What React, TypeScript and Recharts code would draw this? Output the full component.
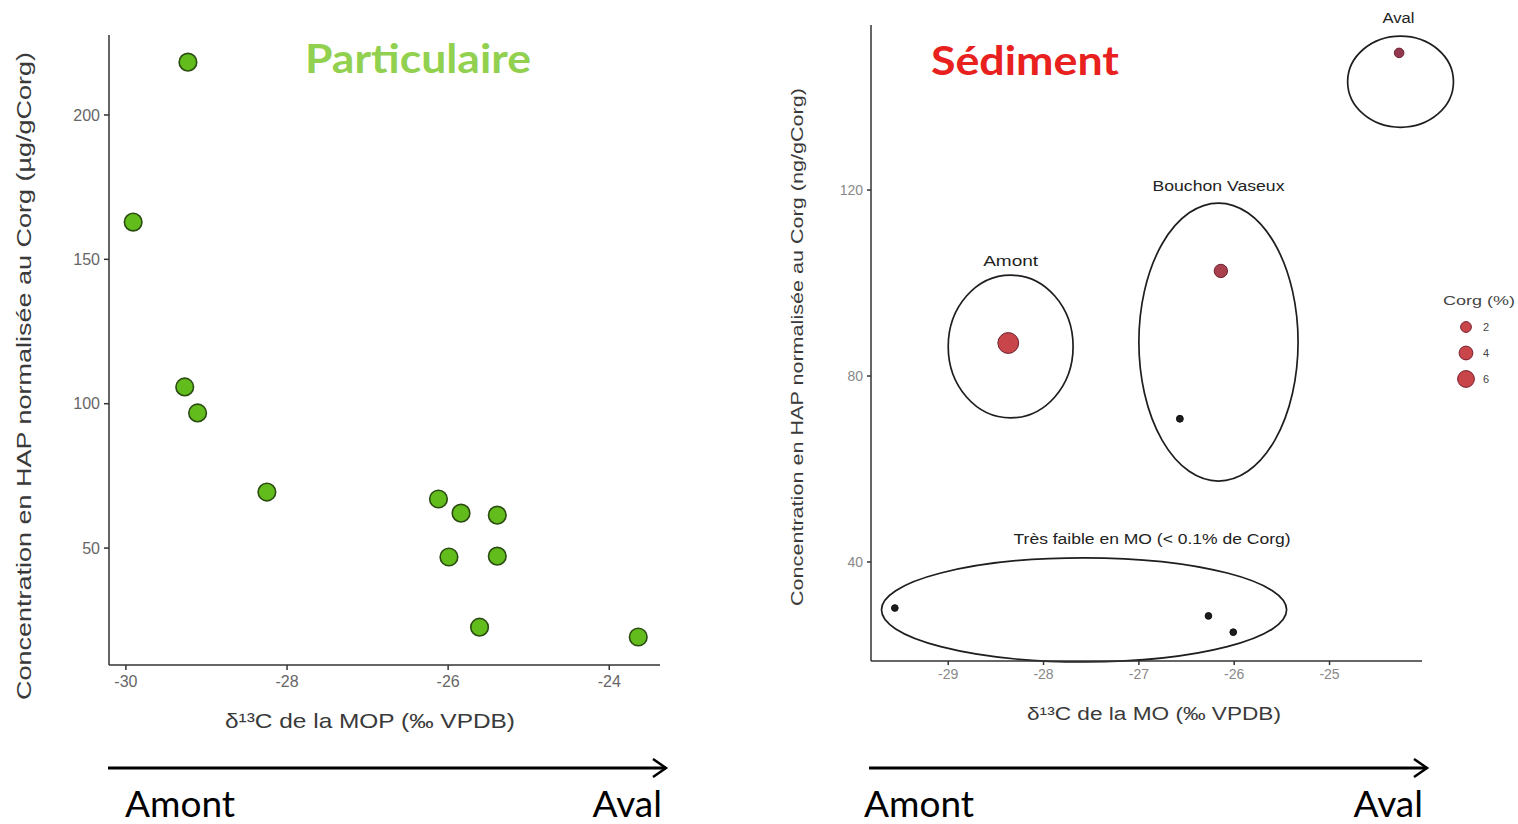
import React from 'react';
import { ScatterChart, Scatter, XAxis, YAxis, ReferenceArea } from 'recharts';

// Particulaire : delta13C de la MOP vs HAP normalisé (µg/gCorg)
const mopD13C = [-29.23, -29.91, -29.27, -29.11, -28.25, -26.12, -25.84, -25.39, -25.99, -25.39, -25.61, -23.64];
const mopHap = [218.3, 162.9, 105.8, 96.8, 69.4, 67.0, 62.1, 61.4, 46.9, 47.2, 22.6, 19.2];
const mopXTicks = [-30, -28, -26, -24];
const mopYTicks = [50, 100, 150, 200];

// Sédiment : delta13C de la MO vs HAP normalisé (ng/gCorg), taille = Corg (%)
const sedD13C = [-28.37, -26.14, -26.57, -24.27, -29.56, -26.27, -26.01];
const sedHap = [87.1, 102.6, 70.8, 149.5, 30.1, 28.4, 24.9];
const sedCorg = [9.5, 4.5, 0.2, 2.0, 0.05, 0.05, 0.05];
const sedXTicks = [-29, -28, -27, -26, -25];
const sedYTicks = [40, 80, 120];
const corgBreaks = [2, 4, 6];

// groupes entourés (bornes en unités des axes)
const groupLabels = ['Amont', 'Bouchon Vaseux', 'Aval', 'Très faible en MO (< 0.1% de Corg)'];
const groupX1 = [-29.0, -27.0, -24.81, -29.7];
const groupX2 = [-27.69, -25.33, -23.7, -25.45];
const groupY1 = [71.0, 57.4, 133.5, 18.5];
const groupY2 = [101.7, 117.2, 153.1, 40.9];

const particulaire = mopD13C.map((x, i) => ({ x, y: mopHap[i] }));
const sediment = sedD13C.map((x, i) => ({ x, y: sedHap[i], corg: sedCorg[i] }));

const AXIS_FONT = '"Liberation Sans", Arial, sans-serif';
const TITLE_FONT = 'Lato, "Noto Sans", sans-serif';

const corgRadius = (c: number) => 3.3 + 0.75 * c;
const corgColor = (c: number) => (c < 0.5 ? '#1c1c1c' : c < 3 ? '#93394f' : c < 6 ? '#a9404d' : '#c8464a');

const GreenDot = (props: any) => (
  <circle cx={props.cx} cy={props.cy} r={8.8} fill="#62bd1c" stroke="#2b4c12" strokeWidth={1.6} />
);

const CorgDot = (props: any) => {
  const c = props.payload.corg;
  return (
    <circle
      cx={props.cx}
      cy={props.cy}
      r={corgRadius(c)}
      fill={corgColor(c)}
      stroke={c < 0.5 ? '#111' : '#6b2030'}
      strokeWidth={1}
    />
  );
};

const EllipseShape = (props: any) => {
  const { x, y, width, height } = props;
  return (
    <ellipse
      cx={x + width / 2}
      cy={y + height / 2}
      rx={Math.abs(width) / 2}
      ry={Math.abs(height) / 2}
      fill="none"
      stroke="#1e1e1e"
      strokeWidth={1.7}
    />
  );
};

const groupLabelDx = [0, 0, -2, 68];
const groupLabelGap = [9, 12, 13, 14];
const groupLabelLen = [55, 132, 32, 277];

const groupLabel = (i: number) => (props: any) => {
  const vb = props.viewBox;
  return (
    <text
      x={vb.x + vb.width / 2 + groupLabelDx[i]}
      y={vb.y - groupLabelGap[i]}
      textAnchor="middle"
      fontFamily={AXIS_FONT}
      fontSize={14}
      fill="#222"
      textLength={groupLabelLen[i]}
      lengthAdjust="spacingAndGlyphs"
    >
      {groupLabels[i]}
    </text>
  );
};

const yTitle = (text: string, x: number, dy: number, len: number, fs: number) => (props: any) => {
  const vb = props.viewBox;
  const cy = vb.y + vb.height / 2 + dy;
  return (
    <text
      x={x}
      y={cy}
      transform={`rotate(-90, ${x}, ${cy})`}
      textAnchor="middle"
      dominantBaseline="central"
      fontFamily={AXIS_FONT}
      fontSize={fs}
      fill="#3a3a3a"
      textLength={len}
      lengthAdjust="spacingAndGlyphs"
    >
      {text}
    </text>
  );
};

const xTitle = (text: string, cx: number, y: number, len: number, fs: number) => () => (
  <text
    x={cx}
    y={y}
    textAnchor="middle"
    fontFamily={AXIS_FONT}
    fontSize={fs}
    fill="#3a3a3a"
    textLength={len}
    lengthAdjust="spacingAndGlyphs"
  >
    {text}
  </text>
);

const Arrow = ({ x1, x2, y }: { x1: number; x2: number; y: number }) => (
  <g stroke="#000" strokeWidth={3} fill="none">
    <line x1={x1} y1={y} x2={x2} y2={y} />
    <polyline points={`${x2 - 13},${y - 9} ${x2},${y} ${x2 - 13},${y + 9}`} strokeWidth={2.5} />
  </g>
);

export default function App() {
  return (
    <div style={{ position: 'absolute', left: 0, top: 0, width: 1518, height: 824, background: '#fff' }}>
      {/* Particulaire */}
      <div style={{ position: 'absolute', left: 0, top: 0 }}>
        <ScatterChart width={700} height={760} margin={{ top: 35, right: 40, bottom: 55, left: 0 }}>
          <XAxis
            type="number"
            dataKey="x"
            domain={[-30.21, -23.37]}
            ticks={mopXTicks}
            height={40}
            tickSize={5}
            tickMargin={6}
            stroke="#333"
            strokeWidth={1.5}
            tick={{ fill: '#666', fontSize: 16, fontFamily: AXIS_FONT }}
            label={{ content: xTitle('δ¹³C de la MOP (‰ VPDB)', 370, 728, 290, 21) }}
          />
          <YAxis
            type="number"
            dataKey="y"
            domain={[9.5, 227.7]}
            ticks={mopYTicks}
            width={109}
            tickSize={5}
            tickMargin={4}
            stroke="#333"
            strokeWidth={1.5}
            tick={{ fill: '#666', fontSize: 16, fontFamily: AXIS_FONT }}
            label={{ content: yTitle('Concentration en HAP normalisée au Corg (µg/gCorg)', 23, 26, 648, 21) }}
          />
          <Scatter data={particulaire} shape={GreenDot} isAnimationActive={false} />
        </ScatterChart>
      </div>

      {/* Sédiment */}
      <div style={{ position: 'absolute', left: 760, top: 0 }}>
        <ScatterChart width={758} height={760} margin={{ top: 25, right: 96, bottom: 64, left: 0 }}>
          <XAxis
            type="number"
            dataKey="x"
            domain={[-29.81, -24.03]}
            ticks={sedXTicks}
            height={35}
            tickSize={4}
            tickMargin={4}
            stroke="#333"
            strokeWidth={1.5}
            tick={{ fill: '#888', fontSize: 14, fontFamily: AXIS_FONT }}
            label={{ content: xTitle('δ¹³C de la MO (‰ VPDB)', 394, 720, 254, 18) }}
          />
          <YAxis
            type="number"
            dataKey="y"
            domain={[18.7, 155.5]}
            ticks={sedYTicks}
            width={111}
            tickSize={4}
            tickMargin={4}
            stroke="#333"
            strokeWidth={1.5}
            tick={{ fill: '#888', fontSize: 14, fontFamily: AXIS_FONT }}
            label={{ content: yTitle('Concentration en HAP normalisée au Corg (ng/gCorg)', 37, 4, 518, 17) }}
          />
          {groupLabels.map((name, i) => (
            <ReferenceArea
              key={name}
              x1={groupX1[i]}
              x2={groupX2[i]}
              y1={groupY1[i]}
              y2={groupY2[i]}
              ifOverflow="visible"
              shape={EllipseShape}
              label={{ content: groupLabel(i) }}
            />
          ))}
          <Scatter data={sediment} shape={CorgDot} isAnimationActive={false} />
        </ScatterChart>
      </div>

      {/* titres, légende et flèches amont -> aval */}
      <svg width={1518} height={824} style={{ position: 'absolute', left: 0, top: 0, pointerEvents: 'none' }}>
        <text x={418} y={73} textAnchor="middle" fontFamily={TITLE_FONT} fontWeight={700} fontSize={40} fill="#92d050" textLength={226} lengthAdjust="spacingAndGlyphs">
          Particulaire
        </text>
        <text x={1025} y={75} textAnchor="middle" fontFamily={TITLE_FONT} fontWeight={700} fontSize={40} fill="#e8201e" textLength={188} lengthAdjust="spacingAndGlyphs">
          Sédiment
        </text>

        <text x={1443} y={305} fontFamily={AXIS_FONT} fontSize={13} fill="#444" textLength={72} lengthAdjust="spacingAndGlyphs">
          Corg (%)
        </text>
        {corgBreaks.map((c, i) => (
          <g key={c}>
            <circle cx={1466} cy={327 + i * 26} r={corgRadius(c) + 0.6} fill="#c8464a" stroke="#7a2030" strokeWidth={1} />
            <text x={1483} y={331 + i * 26} fontFamily={AXIS_FONT} fontSize={11} fill="#444">
              {c}
            </text>
          </g>
        ))}

        <Arrow x1={108} x2={666} y={768} />
        <Arrow x1={869} x2={1427} y={768} />
        <text x={125} y={817} fontFamily={TITLE_FONT} fontSize={37} fill="#000">Amont</text>
        <text x={662} y={817} textAnchor="end" fontFamily={TITLE_FONT} fontSize={37} fill="#000">Aval</text>
        <text x={864} y={817} fontFamily={TITLE_FONT} fontSize={37} fill="#000">Amont</text>
        <text x={1423} y={817} textAnchor="end" fontFamily={TITLE_FONT} fontSize={37} fill="#000">Aval</text>
      </svg>
    </div>
  );
}
